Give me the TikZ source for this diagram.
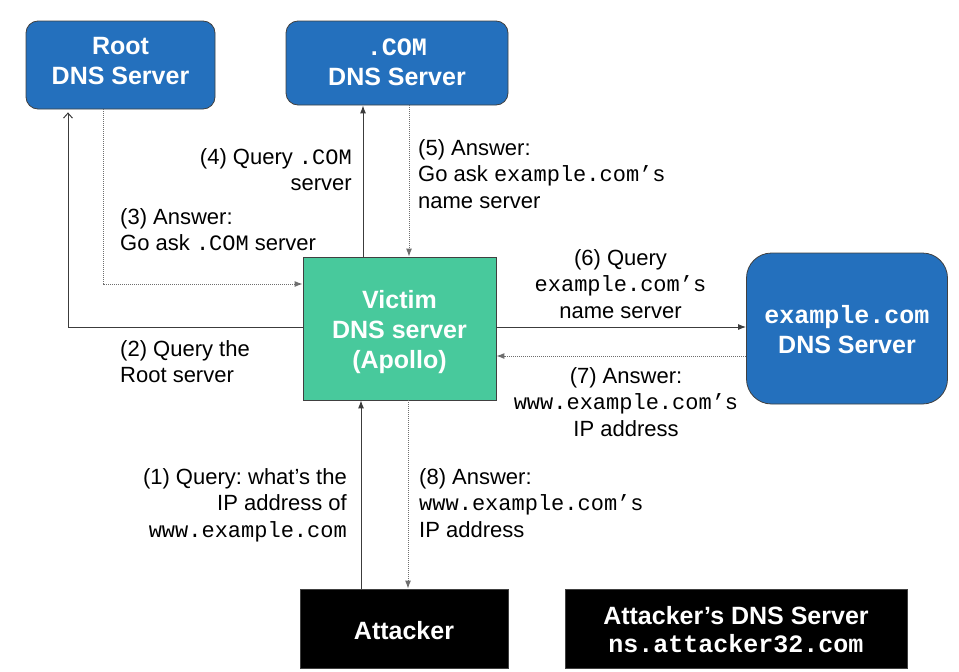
\documentclass[tikz,border=0pt]{standalone}
\usepackage{fontspec}
\setmainfont{Liberation Sans}
\newfontfamily\monofont{Liberation Mono}
\usetikzlibrary{arrows.meta,calc}
\definecolor{boxblue}{RGB}{36,112,189}
\definecolor{victimgreen}{RGB}{72,201,156}
\definecolor{edgegray}{RGB}{64,64,64}
\definecolor{linegray}{RGB}{60,60,60}
\definecolor{dotgray}{RGB}{110,110,110}
\frenchspacing
\begin{document}
\frenchspacing
\begin{tikzpicture}[x=1pt,y=-1pt,
  boxtext/.style={text=white, font=\fontsize{25}{30}\selectfont\bfseries, align=center, inner sep=0},
  server/.style={draw=edgegray, line width=0.8pt, fill=boxblue, rounded corners=12pt, inner sep=0},
  victimbox/.style={draw=edgegray, line width=0.8pt, fill=victimgreen, inner sep=0},
  blackbox/.style={draw=edgegray, line width=0.8pt, fill=black, inner sep=0},
  lbl/.style={font=\fontsize{22}{26.5}\selectfont, inner sep=0, text=black},
  solidarrow/.style={draw=linegray, line width=1pt, -{Latex[length=8pt,width=6pt]}},
  dotarrow/.style={draw=dotgray, line width=1pt, dash pattern=on 1pt off 1pt, -{Latex[length=8pt,width=6pt]}},
]
\useasboundingbox (0,0) rectangle (959,672);

% boxes
\node[server, minimum width=189pt, minimum height=88pt] (root) at (120.5,65) {};
\node[boxtext] (roottext) at (120.5,61.5) {Root\\DNS Server};
\node[server, minimum width=222pt, minimum height=84pt] (com) at (397,63) {};
\node[boxtext] (comtext) at (397,62) {{\monofont\bfseries .COM}\\DNS Server};
\node[victimbox, minimum width=193pt, minimum height=143pt] (victim) at (399.5,328.5) {};
\node[boxtext] (victimtext) at (399.5,332.5) {Victim\\DNS server\\(Apollo)};
\node[server, rounded corners=25pt, minimum width=201pt, minimum height=151pt] (ex) at (847,328.5) {};
\node[boxtext] (extext) at (847,329.5) {{\monofont\bfseries example.com}\\DNS Server};
\node[blackbox, minimum width=208pt, minimum height=79pt] (att) at (404,628.5) {};
\node[boxtext] (atttext) at (404,630.5) {Attacker};
\node[blackbox, minimum width=342pt, minimum height=79pt] (attdns) at (736,628.5) {};
\node[boxtext, font=\fontsize{25}{28}\selectfont\bfseries] (attdnstext) at (736,629.5) {Attacker’s DNS Server\\{\monofont\bfseries ns.attacker32.com}};

% helper coordinates
\coordinate (rootup) at ($(root.south)+(-52.5,3)$);
\coordinate (rootdn) at ($(root.south)+(-17.5,0)$);
\coordinate (vq2) at ($(victim.west)+(0,-1.5)$);
\coordinate (va3) at ($(victim.west)+(0,-44.5)$);
\coordinate (vq4) at ($(victim.north)+(-36.5,0)$);
\coordinate (ca5) at ($(com.south)+(12,0)$);
\coordinate (vq6) at ($(victim.east)+(0,-1.5)$);
\coordinate (ea7) at ($(ex.west)+(0,27.5)$);
\coordinate (aq1) at ($(att.north)+(-43,0)$);
\coordinate (va8) at ($(victim.south)+(8.5,0)$);

% connectors
\draw[draw=linegray, line width=1pt, -{Straight Barb[length=5pt,width=9pt]}] (vq2) -| (rootup);
\draw[dotarrow] (rootdn) |- (va3);
\draw[solidarrow] (vq4) -- (vq4 |- com.south);
\draw[dotarrow] (ca5) -- (ca5 |- victim.north);
\draw[solidarrow] (vq6) -- (vq6 -| ex.west);
\draw[dotarrow] (ea7) -- (ea7 -| victim.east);
\draw[solidarrow] (aq1) -- (aq1 |- victim.south);
\draw[dotarrow] (va8) -- (va8 |- att.north);

% labels
\node[lbl, anchor=north east, align=right] (l4) at (352,148) {(4) Query {\monofont .COM}\\server};
\node[lbl, anchor=north west, align=left] (l5) at (418,139) {(5) Answer:\\Go ask {\monofont example.com’s}\\name server};
\node[lbl, anchor=north west, align=left] (l3) at (120,208) {(3) Answer:\\Go ask {\monofont .COM} server};
\node[lbl, anchor=north west, align=left] (l2) at (120,340) {(2) Query the\\Root server};
\node[lbl, anchor=north, align=center] (l6) at (620.5,249) {(6) Query\\{\monofont example.com’s}\\name server};
\node[lbl, anchor=north, align=center] (l7) at (626,367) {(7) Answer:\\{\monofont www.example.com’s}\\IP address};
\node[lbl, anchor=north east, align=right] (l1) at (347,468) {(1) Query: what’s the\\IP address of\\{\monofont www.example.com}};
\node[lbl, anchor=north west, align=left] (l8) at (419,468) {(8) Answer:\\{\monofont www.example.com’s}\\IP address};
\end{tikzpicture}
\end{document}
